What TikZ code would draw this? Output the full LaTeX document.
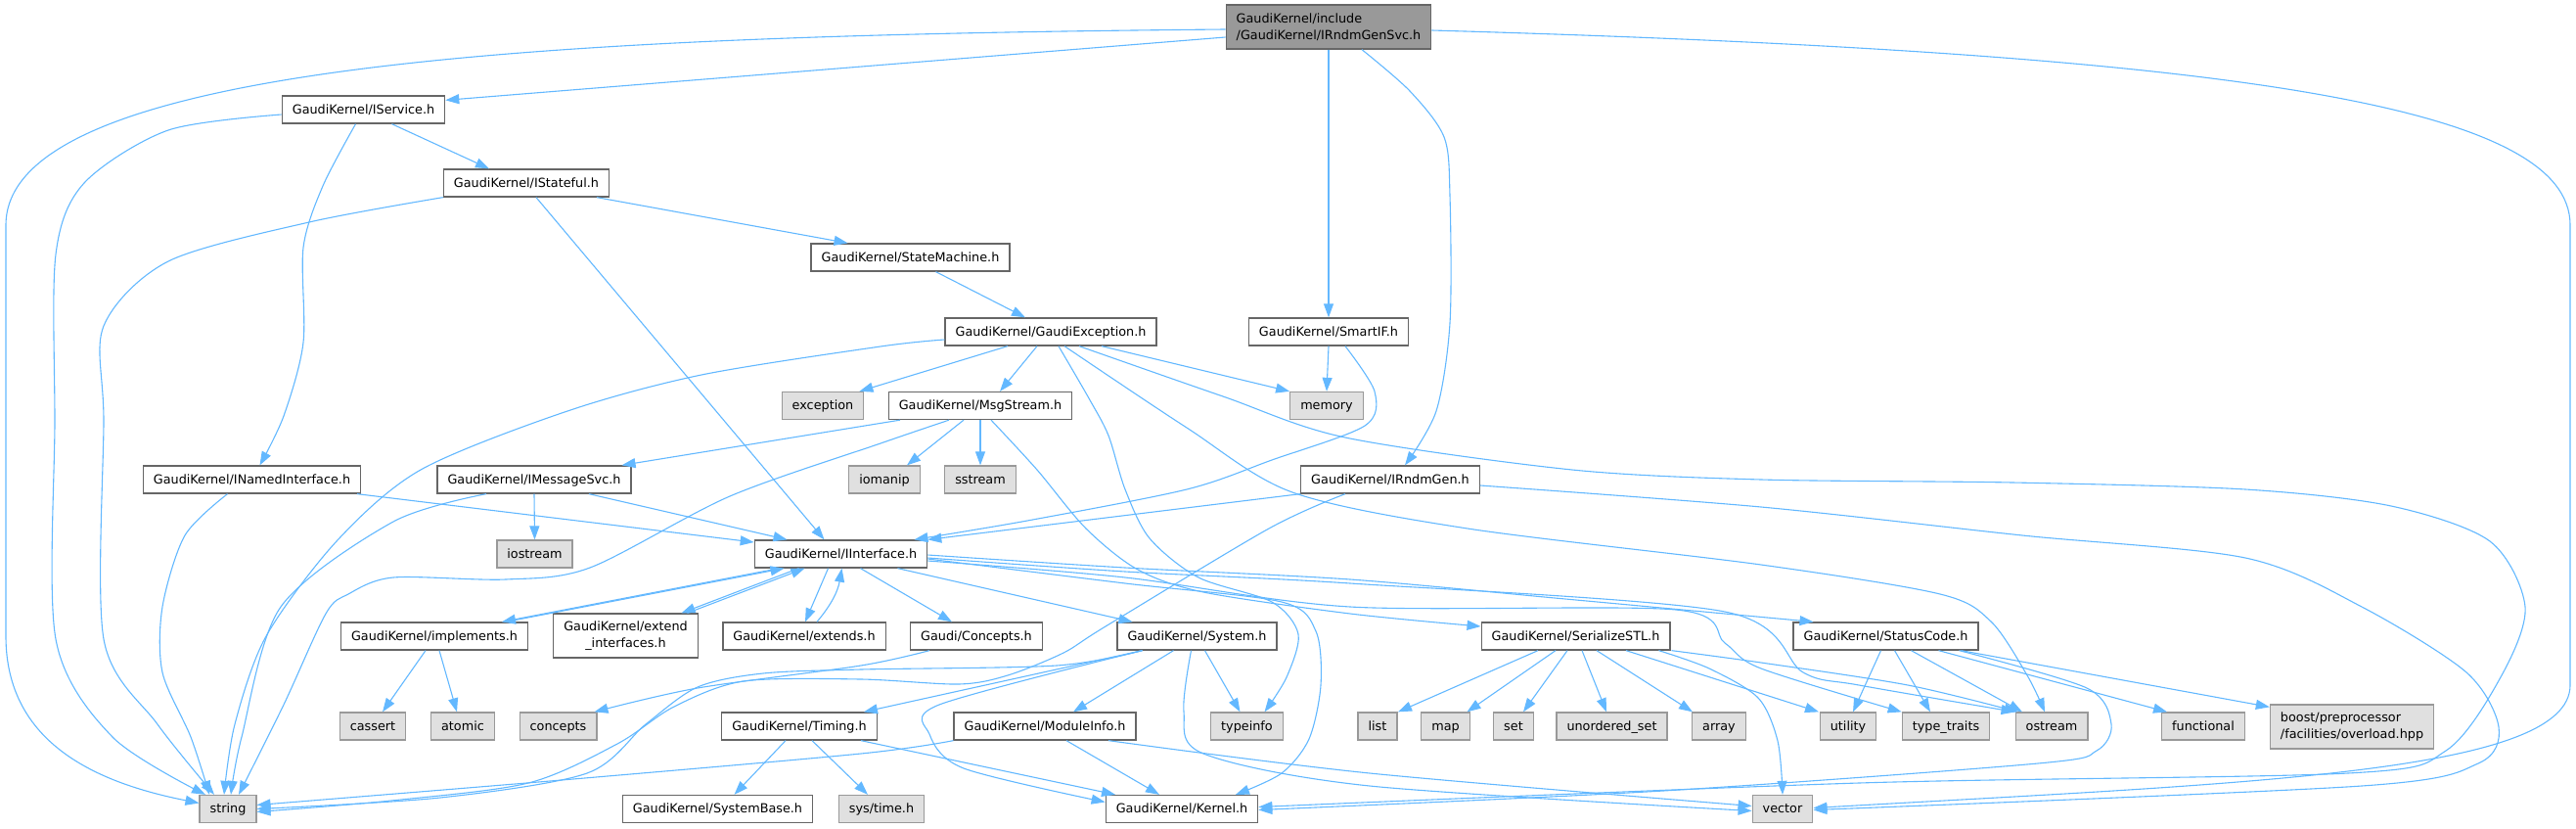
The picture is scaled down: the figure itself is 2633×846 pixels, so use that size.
\documentclass[tikz,border=0pt]{standalone}
\usepackage{fontspec}
\setmainfont{DejaVu Sans}
\usetikzlibrary{arrows.meta}
\definecolor{incblue}{RGB}{99,184,255}
\definecolor{boxline}{RGB}{102,102,102}
\definecolor{sysline}{RGB}{153,153,153}
\definecolor{sysfill}{RGB}{224,224,224}
\definecolor{rootfill}{RGB}{153,153,153}
\tikzset{
  boxbase/.style={line width=1.3pt, inner xsep=10.5pt, inner ysep=0pt,
    font=\fontsize{12.8pt}{17pt}\selectfont},
  hdrbox/.style={boxbase, draw=boxline, fill=white, minimum height=28pt,
    text height=10pt, text depth=1.5pt},
  sysbox/.style={boxbase, draw=sysline, fill=sysfill, minimum height=28pt,
    text height=10pt, text depth=1.5pt},
  twobox/.style={boxbase, draw=boxline, fill=white, minimum height=45pt},
  rootbox/.style={twobox, fill=rootfill, align=left},
  incl/.style={draw=incblue, line width=1.1pt,
    -{Triangle[length=14pt,width=10pt]}}
}
\begin{document}
\begin{tikzpicture}[x=1pt,y=-1pt]
  \useasboundingbox (0,0) rectangle (2633,846);

  \node[rootbox] (rgs) at (1358,27.5) {GaudiKernel/include\\/GaudiKernel/IRndmGenSvc.h};
  \node[hdrbox] (iservice) at (371.5,112) {GaudiKernel/IService.h};
  \node[hdrbox] (istateful) at (538,187) {GaudiKernel/IStateful.h};
  \node[hdrbox] (statemach) at (930.5,263) {GaudiKernel/StateMachine.h};
  \node[hdrbox] (gexc) at (1074,339) {GaudiKernel/GaudiException.h};
  \node[hdrbox] (smartif) at (1358,339) {GaudiKernel/SmartIF.h};
  \node[hdrbox] (msgstream) at (1002,414.5) {GaudiKernel/MsgStream.h};
  \node[hdrbox] (inamed) at (257.5,490) {GaudiKernel/INamedInterface.h};
  \node[hdrbox] (imsgsvc) at (546,490) {GaudiKernel/IMessageSvc.h};
  \node[hdrbox] (irndmgen) at (1421,490) {GaudiKernel/IRndmGen.h};
  \node[hdrbox] (iiface) at (859.5,566) {GaudiKernel/IInterface.h};
  \node[hdrbox] (implements) at (444,650) {GaudiKernel/implements.h};
  \node[twobox, align=center] (extendif) at (639.5,649.5) {GaudiKernel/extend\\\_interfaces.h};
  \node[hdrbox] (extends) at (822,650) {GaudiKernel/extends.h};
  \node[hdrbox] (gconcepts) at (998,650) {Gaudi/Concepts.h};
  \node[hdrbox] (system) at (1223.5,650) {GaudiKernel/System.h};
  \node[hdrbox] (serialize) at (1610.5,650) {GaudiKernel/SerializeSTL.h};
  \node[hdrbox] (statuscode) at (1927.5,650) {GaudiKernel/StatusCode.h};
  \node[hdrbox] (timing) at (817,742) {GaudiKernel/Timing.h};
  \node[hdrbox] (moduleinfo) at (1068,742) {GaudiKernel/ModuleInfo.h};
  \node[hdrbox] (systembase) at (733.5,826.5) {GaudiKernel/SystemBase.h};
  \node[hdrbox] (kernel) at (1208,826.5) {GaudiKernel/Kernel.h};

  \node[sysbox] (exception) at (841,414.5) {exception};
  \node[sysbox] (memory) at (1356,414.5) {memory};
  \node[sysbox] (iomanip) at (904,490) {iomanip};
  \node[sysbox] (sstream) at (1002,490) {sstream};
  \node[sysbox] (iostream) at (546.5,566) {iostream};
  \node[sysbox] (cassert) at (381,742) {cassert};
  \node[sysbox] (atomic) at (473,742) {atomic};
  \node[sysbox] (concepts) at (570.5,742) {concepts};
  \node[sysbox] (typeinfo) at (1274.5,742) {typeinfo};
  \node[sysbox] (list) at (1408,742) {list};
  \node[sysbox] (map) at (1477.5,742) {map};
  \node[sysbox] (set) at (1547,742) {set};
  \node[sysbox] (unordset) at (1647.5,742) {unordered\_set};
  \node[sysbox] (array) at (1757,742) {array};
  \node[sysbox] (utility) at (1889,742) {utility};
  \node[sysbox] (typetraits) at (1989,742) {type\_traits};
  \node[sysbox] (ostream) at (2097,742) {ostream};
  \node[sysbox] (functional) at (2252,742) {functional};
  \node[twobox, draw=sysline, fill=sysfill, align=left] (boost) at (2404,742.5)
    {boost/preprocessor\\/facilities/overload.hpp};
  \node[sysbox] (string) at (233,826.5) {string};
  \node[sysbox] (systime) at (901,826.5) {sys/time.h};
  \node[sysbox] (vector) at (1822,826.5) {vector};

  % IRndmGenSvc.h
  \draw[incl] ([yshift=-2.5pt]rgs.west) .. controls (600,36) and (6,60) .. (6,230)
    -- (6,650) .. controls (6,760) and (100,800) .. ([yshift=6pt]string.west);
  \draw[incl] ([yshift=-10.5pt]rgs.west) -- ([yshift=-5pt]iservice.north east);
  \draw[incl] (rgs.south) -- (smartif.north);
  \draw[incl] plot[smooth] coordinates {([xshift=34pt]rgs.south) (1441,93) (1476,140) (1482,200)
    (1482,330) (1468,420) ([xshift=15pt]irndmgen.north)};
  \draw[incl] ([yshift=-3.5pt]rgs.east) .. controls (2300,55) and (2627,110) .. (2627,230)
    -- (2627,700) .. controls (2627,790) and (2300,800) .. ([yshift=1pt]vector.east);

  \draw[incl] ([xshift=29pt]iservice.south) -- ([xshift=-38pt]istateful.north);
  \draw[incl] plot[smooth] coordinates {([xshift=-8pt]iservice.south) (330,190) (310,253) (310,350)
    (290,425) ([xshift=8pt]inamed.north)};
  \draw[incl] plot[smooth] coordinates {([yshift=-5pt]iservice.west) (172,133) (86,187) (57,260)
    (56,430) (57,653) (115,753) ([xshift=-23pt]string.north)};

  \draw[incl] ([xshift=72pt]istateful.south) -- ([xshift=-64pt]statemach.north);
  \draw[incl] ([xshift=10pt]istateful.south) -- ([xshift=-17pt]iiface.north);
  \draw[incl] plot[smooth] coordinates {(istateful.south west) (316,227) (172,267) (106,333)
    (106,430) (106,653) (161,740) ([xshift=-14pt]string.north)};

  \draw[incl] ([xshift=26pt]statemach.south) -- ([xshift=-26pt]gexc.north);

  % GaudiException.h
  \draw[incl] plot[smooth] coordinates {([yshift=-8pt]gexc.west) (900,354) (717,383) (580,420)
    (430,480) (344,553) (272,650) (240,740) ([xshift=-4pt]string.north)};
  \draw[incl] ([xshift=-44pt]gexc.south) -- ([xshift=-5pt]exception.north east);
  \draw[incl] ([xshift=-14pt]gexc.south) -- ([xshift=20pt]msgstream.north);
  \draw[incl] plot[smooth] coordinates {([xshift=8pt]gexc.south) (1113,407) (1133,445) (1150,500)
    (1175,550) (1225,590) (1300,615) (1327,648) (1315,692) ([xshift=18pt]typeinfo.north)};
  \draw[incl] plot[smooth] coordinates {([xshift=14pt]gexc.south) (1213,437) (1321,503) (1500,540)
    (1800,577) (1983,607) (2035,635) (2072,690) ([xshift=-7pt]ostream.north)};
  \draw[incl] plot[smooth] coordinates {([xshift=29pt]gexc.south) (1250,405) (1375,447) (1607,480)
    (1800,490) (2057,493) (2295,500) (2444,517) (2545,553) (2581,620) (2557,690) (2500,767)
    (2400,790) (1900,800) ([yshift=2pt]kernel.east)};
  \draw[incl] ([xshift=52pt]gexc.south) -- (memory.north west);

  % MsgStream.h
  \draw[incl] ([xshift=-82pt]msgstream.south) -- ([xshift=-10pt]imsgsvc.north east);
  \draw[incl] plot[smooth] coordinates {([xshift=-32pt]msgstream.south) (900,453) (746,507)
    (603,580) (517,592) (402,590) (356,607) (333,627) (290,720) ([xshift=11pt]string.north)};
  \draw[incl] ([xshift=-17pt]msgstream.south) -- ([xshift=23pt]iomanip.north);
  \draw[incl] (msgstream.south) -- (sstream.north);
  \draw[incl] plot[smooth] coordinates {([xshift=11pt]msgstream.south) (1060,480) (1110,540)
    (1163,582) (1230,605) (1380,627) ([yshift=10pt]serialize.west)};

  \draw[incl] (smartif.south) -- (memory.north);
  \draw[incl] plot[smooth] coordinates {([xshift=17pt]smartif.south) (1405,400) (1395,435)
    (1300,470) (1213,500) (1050,532) ([xshift=75pt]iiface.north)};

  % IRndmGen.h
  \draw[incl] (irndmgen.south west) -- (iiface.north east);
  \draw[incl] plot[smooth] coordinates {([xshift=-46pt]irndmgen.south) (1297,540) (1130,640)
    (1087,667) (1030,690) (980,699) (880,694) (760,696) (689,722) (631,760) (540,800) (400,818)
    ([yshift=-3pt]string.east)};
  \draw[incl] plot[smooth] coordinates {([yshift=-6pt]irndmgen.east) (1800,518) (2067,547)
    (2295,570) (2414,620) (2521,687) (2554,743) (2533,780) (2414,803) ([yshift=-1pt]vector.east)};

  \draw[incl] ([xshift=107.5pt]inamed.south) -- ([yshift=12pt]iiface.west);
  \draw[incl] plot[smooth] coordinates {([xshift=-25pt]inamed.south) (189,547) (166,620)
    (166,687) (195,753) ([xshift=-19pt]string.north)};

  \draw[incl] (imsgsvc.south) -- (iostream.north);
  \draw[incl] ([xshift=56pt]imsgsvc.south) -- ([xshift=-55pt]iiface.north);
  \draw[incl] plot[smooth] coordinates {([xshift=-49pt]imsgsvc.south) (402,533) (287,620)
    (247,753) ([xshift=3pt]string.north)};

  % IInterface.h
  \draw[incl] ([xshift=-63pt]iiface.south) -- ([xshift=69pt]implements.north);
  \draw[incl] ([xshift=73pt]implements.north) -- ([xshift=-58pt]iiface.south);
  \draw[incl] ([xshift=-43pt]iiface.south) -- ([xshift=57pt]extendif.north);
  \draw[incl] ([xshift=63pt]extendif.north) -- ([xshift=-37pt]iiface.south);
  \draw[incl] ([xshift=-13pt]iiface.south) -- ([xshift=1pt]extends.north);
  \draw[incl] ([xshift=13pt]extends.north) to[bend right=15] ([xshift=1pt]iiface.south);
  \draw[incl] ([xshift=20pt]iiface.south) -- ([xshift=-25pt]gconcepts.north);
  \draw[incl] ([xshift=58pt]iiface.south) -- ([xshift=-66pt]system.north);
  \draw[incl] plot[smooth] coordinates {([yshift=-1pt]iiface.east) (1150,580) (1380,592)
    (1600,612) ([xshift=-74pt]statuscode.north)};
  \draw[incl] plot[smooth] coordinates {([yshift=-4pt]iiface.east) (1150,584) (1380,596)
    (1763,625) (1843,687) (1900,700) (ostream.north west)};
  \draw[incl] plot[smooth] coordinates {([yshift=-7pt]iiface.east) (1150,590) (1380,620)
    (1713,623) (1763,657) (1800,683) (typetraits.north west)};
  \draw[incl] plot[smooth] coordinates {([yshift=-5pt]iiface.east) (1150,596) (1310,615)
    (1345,645) (1350,700) (1338,755) (1310,790) ([xshift=55pt]kernel.north)};

  % System.h
  \draw[incl] ([xshift=-56pt]system.south) -- ([xshift=66pt]timing.north);
  \draw[incl] ([xshift=-24pt]system.south) -- ([xshift=29pt]moduleinfo.north);
  \draw[incl] ([xshift=8pt]system.south) -- ([xshift=-7pt]typeinfo.north);
  \draw[incl] plot[smooth] coordinates {([xshift=-56pt]system.south) (960,720) (950,750)
    (985,785) ([yshift=7pt]kernel.west)};
  \draw[incl] plot[smooth] coordinates {([xshift=-56pt]system.south) (1080,680) (880,684)
    (780,688) (713,702) (660,740) (600,790) (450,815) (string.east)};
  \draw[incl] plot[smooth] coordinates {([xshift=-6pt]system.south) (1210,727) (1230,770)
    (1400,803) ([yshift=-2pt]vector.west)};

  \draw[incl] ([xshift=-14pt]timing.south) -- ([xshift=17pt]systembase.north);
  \draw[incl] ([xshift=13pt]timing.south) -- ([xshift=-14pt]systime.north);
  \draw[incl] ([xshift=63pt]timing.south) -- ([xshift=-68pt]kernel.north);

  \draw[incl] ([xshift=22pt]moduleinfo.south) -- ([xshift=-23pt]kernel.north);
  \draw[incl] plot[smooth] coordinates {(moduleinfo.south west) (880,770) (574,797)
    ([yshift=4pt]string.east)};
  \draw[incl] plot[smooth] coordinates {([xshift=65pt]moduleinfo.south) (1400,790)
    ([yshift=3pt]vector.west)};

  \draw[incl] plot[smooth] coordinates {([xshift=-48pt]gconcepts.south) (880,680) (713,703)
    ([xshift=-3pt]concepts.north east)};

  % StatusCode.h
  \draw[incl] ([xshift=-5pt]statuscode.south) -- ([xshift=5pt]utility.north);
  \draw[incl] ([xshift=9pt]statuscode.south) -- ([xshift=-16pt]typetraits.north);
  \draw[incl] ([xshift=26pt]statuscode.south) -- ([xshift=-30pt]ostream.north);
  \draw[incl] ([xshift=54pt]statuscode.south) -- ([xshift=-37pt]functional.north);
  \draw[incl] ([xshift=77pt]statuscode.south) -- ([yshift=-3pt]boost.north west);
  \draw[incl] plot[smooth] coordinates {([xshift=75pt]statuscode.south) (2133,703) (2158,740)
    (2143,767) (2083,780) (1700,808) ([yshift=-1pt]kernel.east)};

  % SerializeSTL.h
  \foreach \tgt/\sx/\ex in {list/-38.5pt/21pt, map/-20.5pt/22pt, set/-8.5pt/10pt,
      unordset/6.5pt/-5.5pt, array/21.5pt/-27pt, utility/51.5pt/-30pt}
    \draw[incl] ([xshift=\sx]serialize.south) -- ([xshift=\ex]\tgt.north);
  \draw[incl] plot[smooth] coordinates {([xshift=85pt]serialize.south) (1747,683) (1797,713)
    (1817,757) (vector.north)};
  \draw[incl] plot[smooth] coordinates {([xshift=98pt]serialize.south) (1800,677) (1950,700)
    ([xshift=3pt]ostream.north west)};

  \draw[incl] ([xshift=-9pt]implements.south) -- ([xshift=10pt]cassert.north);
  \draw[incl] ([xshift=5pt]implements.south) -- ([xshift=-6pt]atomic.north);
\end{tikzpicture}
\end{document}
